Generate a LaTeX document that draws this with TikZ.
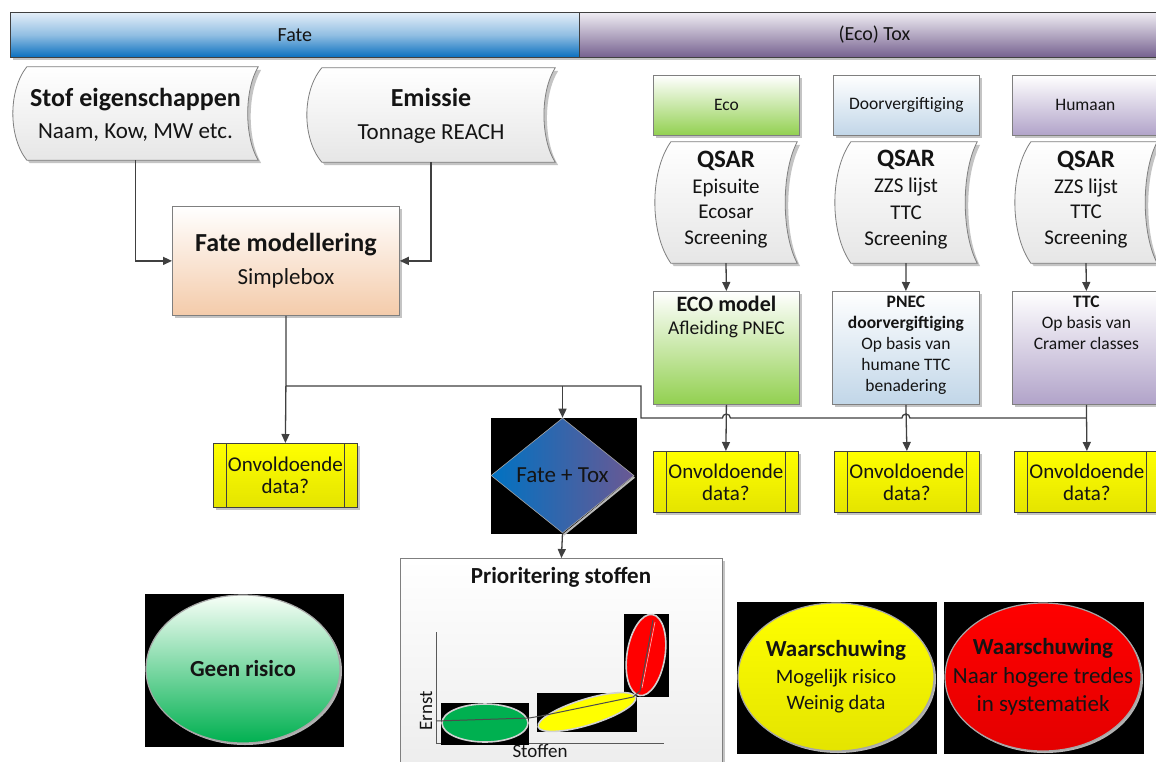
\documentclass[tikz,border=0pt]{standalone}
\usepackage{fontspec}
\setmainfont{Carlito}
\usetikzlibrary{arrows.meta,calc,shapes.geometric,shadows}
\definecolor{lineg}{HTML}{404040}
\definecolor{bordg}{HTML}{7F7F7F}
\definecolor{txt}{HTML}{141414}
\definecolor{fateb}{HTML}{0A6FBF}
\definecolor{fatebl}{HTML}{E4EEF8}
\definecolor{toxp}{HTML}{75608F}
\definecolor{toxpl}{HTML}{EFECF3}
\definecolor{peach}{HTML}{F4CBAA}
\definecolor{ecog}{HTML}{92D050}
\definecolor{dvb}{HTML}{C1D6E8}
\definecolor{hump}{HTML}{B1A3C9}
\definecolor{yel}{HTML}{FFFF00}
\definecolor{yeld}{HTML}{E4E400}
\definecolor{grn}{HTML}{00B050}
\definecolor{redc}{HTML}{FF0000}
\definecolor{redd}{HTML}{E40000}
\definecolor{dmdl}{HTML}{0072C2}
\definecolor{dmdr}{HTML}{6A5893}
\definecolor{shad}{HTML}{C4C4C4}
\definecolor{grayfill}{HTML}{E6E6E6}
\newcommand\fs[2]{\fontsize{#1}{#2}\selectfont}
% stored-data outline: #1 node name, #2 curve depth
\newcommand\stdshape[2]{%
  \path[fill=shad] let \p1=(#1.north west), \p2=(#1.south east) in
    ($(\x1+#2pt+3pt,\y1-3pt)$) -- ($(\x2+3pt,\y1-3pt)$)
      .. controls ($(\x2-#2pt+3pt,\y1-0.25*\y1+0.25*\y2-3pt)$) and ($(\x2-#2pt+3pt,\y1-0.75*\y1+0.75*\y2-3pt)$) .. ($(\x2+3pt,\y2-3pt)$)
      -- ($(\x1+#2pt+3pt,\y2-3pt)$)
      .. controls ($(\x1-#2pt*0.33+3pt,\y1-0.75*\y1+0.75*\y2-3pt)$) and ($(\x1-#2pt*0.33+3pt,\y1-0.25*\y1+0.25*\y2-3pt)$) .. cycle;
  \path[draw=bordg, line width=0.8pt, top color=white, bottom color=grayfill] let \p1=(#1.north west), \p2=(#1.south east) in
      ($(\x1+#2pt,\y1)$) -- ($(\x2,\y1)$)
      .. controls ($(\x2-#2pt,\y1-0.25*\y1+0.25*\y2)$) and ($(\x2-#2pt,\y1-0.75*\y1+0.75*\y2)$) .. ($(\x2,\y2)$)
      -- ($(\x1+#2pt,\y2)$)
      .. controls ($(\x1-#2pt*0.33,\y1-0.75*\y1+0.75*\y2)$) and ($(\x1-#2pt*0.33,\y1-0.25*\y1+0.25*\y2)$) .. cycle;
}
\tikzset{
  every node/.style={text=txt},
  conn/.style={draw=lineg, line width=1.3pt},
  arr/.style={conn, -{Triangle[length=9pt,width=8pt]}},
  shd/.style={drop shadow={shadow xshift=3pt, shadow yshift=-3pt, fill=shad, opacity=1}},
  hdr/.style={draw=lineg, line width=0.8pt, anchor=north west, inner sep=0pt, font=\fs{20}{24}, shd},
  stdtext/.style={draw=none, inner sep=0pt, align=center},
  boxs/.style={draw=bordg, line width=0.8pt, anchor=north west, inner sep=0pt, shd},
  txtn/.style={align=center, inner sep=0pt},
  onv/.style={draw=lineg, line width=0.8pt, anchor=north west, inner sep=0pt, top color=yel, bottom color=yeld, shd, align=center, font=\fs{21}{22}},
  bigell/.style={ellipse, draw=gray!70, line width=1.2pt, inner sep=0pt, minimum width=196pt, minimum height=148pt, drop shadow={shadow xshift=2pt, shadow yshift=-2pt, fill=gray!60, opacity=1}},
  chartell/.style={draw=gray!35, line width=1.6pt},
}
\begin{document}
\begin{tikzpicture}[x=1pt,y=-1pt]
\useasboundingbox (0,0) rectangle (1156,761);
\clip (0,0) rectangle (1156,761);
\fill[white] (0,0) rectangle (1156,761);

% header bars
\node[hdr, minimum width=569pt, minimum height=45pt, top color=fatebl, bottom color=fateb, middle color=fateb!45!white] (hfate) at (10,12) {Fate};
\node[hdr, minimum width=590pt, minimum height=45pt, top color=toxpl, bottom color=toxp, middle color=toxp!55!white] (htox) at (579,12) {(Eco) Tox};

% input shape frames (named, empty) and their outlines
\node[stdtext, minimum width=245pt, minimum height=93pt] (stof) at (135.5,113.5) {};
\node[stdtext, minimum width=248pt, minimum height=94pt] (emis) at (431,115) {};
\node[stdtext, minimum width=142pt, minimum height=121pt] (qeco) at (726,202.5) {};
\node[stdtext, minimum width=142pt, minimum height=121pt] (qdv) at (906,202.5) {};
\node[stdtext, minimum width=142pt, minimum height=121pt] (qhum) at (1086,202.5) {};
\stdshape{stof}{14}
\stdshape{emis}{15}
\stdshape{qeco}{16}
\stdshape{qdv}{16}
\stdshape{qhum}{16}
\node[stdtext, font=\fs{23}{32}] (stoft) at ($(stof)+(0,1)$) {{\bfseries\fs{26}{32}Stof eigenschappen}\\Naam, Kow, MW etc.};
\node[stdtext, font=\fs{23}{33}] (emist) at ($(emis)+(0,1)$) {{\bfseries\fs{26}{33}Emissie}\\Tonnage REACH};
\node[stdtext, font=\fs{21}{25.7}] (qecot) at ($(qeco)+(0,-3)$) {{\bfseries\fs{25}{25.7}QSAR}\\Episuite\\Ecosar\\Screening};
\node[stdtext, font=\fs{21}{26.5}] (qdvt) at ($(qdv)+(0,-3)$) {{\bfseries\fs{25}{26.5}QSAR}\\ZZS lijst\\TTC\\Screening};
\node[stdtext, font=\fs{21}{25.7}] (qhumt) at ($(qhum)+(0,-3)$) {{\bfseries\fs{25}{25.7}QSAR}\\ZZS lijst\\TTC\\Screening};

% fate modelling box
\node[boxs, minimum width=227pt, minimum height=109pt, top color=white, bottom color=peach, align=center, font=\fs{23}{33}] (fatebox) at (172,206)
  {{\bfseries\fs{26}{33}Fate modellering}\\Simplebox};

% tox column headers
\node[boxs, minimum width=146pt, minimum height=60pt, top color=white, bottom color=ecog, font=\fs{17.5}{20}] (heco) at (653,75) {Eco};
\node[boxs, minimum width=146pt, minimum height=60pt, top color=white, bottom color=dvb, font=\fs{17.5}{20}] (hdv) at (833,75) {Doorvergiftiging};
\node[boxs, minimum width=146pt, minimum height=60pt, top color=white, bottom color=hump, font=\fs{17.5}{20}] (hhum) at (1012,75) {Humaan};

% tox model boxes
\node[boxs, minimum width=146pt, minimum height=113pt, top color=white, bottom color=ecog] (ecom) at (653,291) {};
\node[boxs, minimum width=147pt, minimum height=113pt, top color=white, bottom color=dvb] (pnec) at (832,291) {};
\node[boxs, minimum width=148pt, minimum height=113pt, top color=white, bottom color=hump] (ttc) at (1012,291) {};
\node[txtn, anchor=north, font=\fs{19.5}{23}] (ecomt) at ($(ecom.north)+(0,5)$) {{\bfseries\fs{22}{23}ECO model}\\Afleiding PNEC};
\node[txtn, anchor=north, font=\fs{17.5}{21}] (pnect) at ($(pnec.north)+(0,5)$) {{\bfseries PNEC}\\{\bfseries doorvergiftiging}\\Op basis van\\humane TTC\\benadering};
\node[txtn, anchor=north, font=\fs{17.5}{21}] (ttct) at ($(ttc.north)+(0,5)$) {{\bfseries TTC}\\Op basis van\\Cramer classes};

% onvoldoende data boxes
\node[onv, minimum width=144pt, minimum height=64pt] (onv0) at (213,443) {Onvoldoende\\data?};
\node[onv, minimum width=145pt, minimum height=61pt] (onv1) at (653,451) {Onvoldoende\\data?};
\node[onv, minimum width=145pt, minimum height=61pt] (onv2) at (834,451) {Onvoldoende\\data?};
\node[onv, minimum width=145pt, minimum height=61pt] (onv3) at (1014,451) {Onvoldoende\\data?};
\foreach \n in {onv0,onv1,onv2,onv3}{
  \draw[lineg, line width=0.8pt] ($(\n.north west)+(13,0)$) -- ($(\n.south west)+(13,0)$);
  \draw[lineg, line width=0.8pt] ($(\n.north east)+(-13,0)$) -- ($(\n.south east)+(-13,0)$);
}

% decision diamond
\fill[black] (491,418) rectangle (637,534);
\node[diamond, minimum width=143pt, minimum height=115pt, inner sep=0pt, left color=dmdl, right color=dmdr, draw=gray!70, line width=0.6pt, font=\fs{23}{24}] (dmd) at (562.5,475.5) {Fate + Tox};
\draw[gray!55, line width=2pt] ($(dmd.east)+(0,1.5)$) -- ($(dmd.south)+(1,1.5)$);

% prioritering box
\node[boxs, minimum width=322pt, minimum height=230pt, top color=white, bottom color=grayfill!80!white] (prio) at (400,558) {};
\node[txtn, font=\fs{23}{24}\bfseries] (priot) at (561,577) {Prioritering stoffen};
% chart
\coordinate (ax0) at (436,743);
\coordinate (axy) at (436,632);
\coordinate (axx) at (664,743);
\draw[gray!70!black, line width=1pt] (axy) -- (ax0) -- (axx);
\node[txtn, rotate=90, font=\fs{19}{20}] (ernst) at (426,711) {Ernst};
\node[txtn, font=\fs{19}{20}] (stoff) at (540,751) {Stoffen};
\fill[black] (441,703) rectangle (529,745);
\fill[black] (537,693) rectangle (637,732);
\fill[black] (624,614) rectangle (669,697);
\draw[chartell, fill=grn] (485,723) ellipse [x radius=43, y radius=19];
\draw[chartell, fill=yel, rotate around={17:(587,712)}] (587,712) ellipse [x radius=51, y radius=13];
\draw[chartell, fill=redc, rotate around={-9:(646,655)}] (646,655) ellipse [x radius=19, y radius=41];
\draw[gray!60!black, line width=1pt] (436,721) -- (529,718) -- (541,716) -- (633,697) -- (640,691) -- (653,620);
\draw[white!75!red, line width=0.6pt] (642,688) -- (655,622);

% result ellipses
\fill[black] (145,594) rectangle (344,747);
\node[bigell, minimum width=194pt, top color=green!3!white, bottom color=grn] (geen) at (243,669) {};
\node[txtn, font=\fs{23}{24}\bfseries] (geent) at (geen) {Geen risico};
\fill[black] (737,602) rectangle (937,754);
\node[bigell, top color=yel, bottom color=yeld] (warn1) at (836,677) {};
\node[txtn, font=\fs{20.5}{26.5}] (warn1t) at (warn1) {{\bfseries\fs{23}{26.5}Waarschuwing}\\Mogelijk risico\\Weinig data};
\fill[black] (944,602) rectangle (1144,754);
\node[bigell, top color=redc, bottom color=redd] (warn2) at (1043,677) {};
\node[txtn, font=\fs{23}{28.5}] (warn2t) at (warn2) {{\bfseries Waarschuwing}\\Naar hogere tredes\\in systematiek};

% connectors
\coordinate (j1) at (fatebox.south |- 0,386);
\coordinate (j2) at (dmd.north |- j1);
\coordinate (j3) at (641,386);
\coordinate (j4) at (641,418);
\draw[arr] (stof.south) |- (fatebox.west);
\draw[arr] (emis.south) |- (fatebox.east);
\draw[conn] (fatebox.south) -- (j1) -- (j3) -- (j4)
  -- ($(ecom.south |- j4)+(-4,0)$) arc[start angle=180, end angle=360, radius=4]
  -- ($(pnec.south |- j4)+(-4,0)$) arc[start angle=180, end angle=360, radius=4]
  -- (ttc.south |- j4);
\draw[arr] (j1) -- (onv0.north);
\draw[arr] (j2) -- (dmd.north);
\draw[arr] (qeco.south) -- (ecom.north);
\draw[arr] (qdv.south) -- (pnec.north);
\draw[arr] (qhum.south) -- (ttc.north);
\draw[arr] (ecom.south) -- (onv1.north);
\draw[arr] (pnec.south) -- (onv2.north);
\draw[arr] (ttc.south) -- (onv3.north);
\draw[arr] (dmd.south) -- (prio.north);
\end{tikzpicture}
\end{document}
